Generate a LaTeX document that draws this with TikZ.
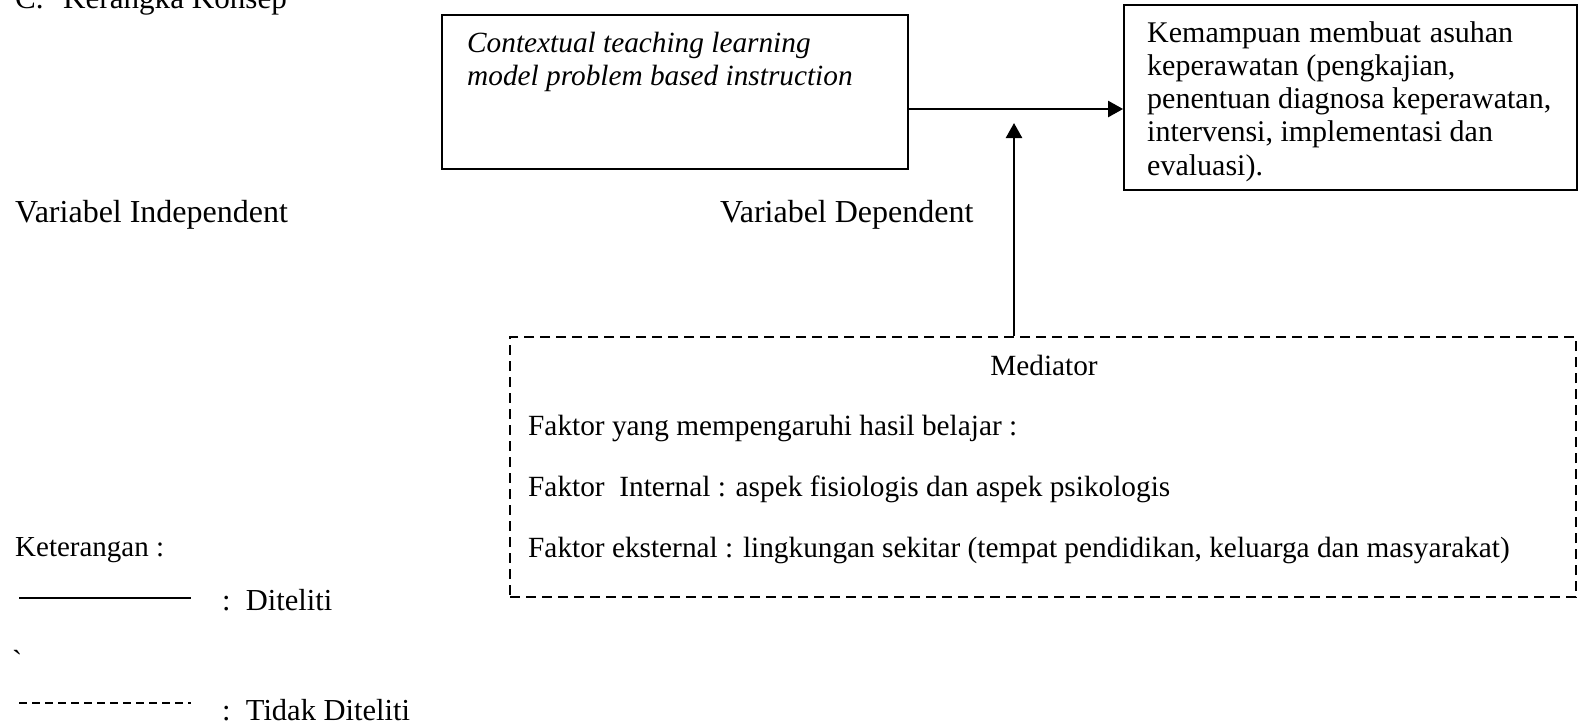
\documentclass[tikz,border=0pt]{standalone}
\usepackage{fontspec}
\setmainfont{Liberation Serif}
\newfontfamily\rawserif[Ligatures=TeXOff]{Liberation Serif}
\usetikzlibrary{arrows.meta}
\newcommand{\fsA}{\fontsize{32}{36}\selectfont}
\newcommand{\fsT}{\fontsize{31.1}{36}\selectfont}
\newcommand{\fsB}{\fontsize{30}{33.3}\selectfont}
\newcommand{\fsC}{\fontsize{29.3}{32}\selectfont}
\newcommand{\fsD}{\fontsize{30.5}{32}\selectfont}
\newcommand{\fsK}{\fontsize{29}{32}\selectfont}
\tikzset{
  lbl/.style={anchor=base west, inner sep=0pt, font=\fsD},
  solidbox/.style={draw, line width=1.8pt},
  medbox/.style={draw, line width=2.2pt, dash pattern=on 10pt off 6pt},
  conn/.style={line width=2.4pt, -{Triangle[length=15pt,width=16pt]}},
}
\begin{document}
\begin{tikzpicture}[x=1pt,y=-1pt]
\clip (0,0) rectangle (1579,724);
\fill[white] (0,0) rectangle (1579,724);
% title (cut off at the top edge)
\node[lbl, font=\fsT] (titleC) at (15,8) {C.};
\node[lbl, font=\fsT] (title) at (63,8) {Kerangka Konsep};
% boxes
\node[solidbox, minimum width=466pt, minimum height=154pt] (ctl) at (675,92) {};
\node[lbl, font=\fsC\itshape] (ctl1) at (467,52) {Contextual teaching learning};
\node[lbl, font=\fsC\itshape] (ctl2) at (467,85) {model problem based instruction};
\node[solidbox, minimum width=453pt, minimum height=185pt] (kem) at (1350.5,97.5) {};
\node[lbl, font=\fsB] (k1) at (1147,42) {\makebox[366pt][s]{Kemampuan membuat asuhan}};
\node[lbl, font=\fsB] (k2) at (1147,75.3) {keperawatan (pengkajian,};
\node[lbl, font=\fsB] (k3) at (1147,108.6) {penentuan diagnosa keperawatan,};
\node[lbl, font=\fsB] (k4) at (1147,141.9) {intervensi, implementasi dan};
\node[lbl, font=\fsB] (k5) at (1147,175.2) {evaluasi).};
% labels
\node[lbl, font=\fsA] (vi) at (15,222) {Variabel Independent};
\node[lbl, font=\fsA] (vd) at (720,222) {Variabel Dependent};
% mediator box
\node[medbox, minimum width=1066pt, minimum height=260pt] (med) at (1043,467) {};
\node[anchor=base, inner sep=0pt, font=\fsC] (m0) at (1044,375) {Mediator};
\node[lbl, font=\fsC] (m1) at (528,435) {Faktor yang mempengaruhi hasil belajar :};
\node[lbl, font=\fsC] (m2) at (528,496) {Faktor\ \ Internal : aspek fisiologis dan aspek psikologis};
\node[lbl, font=\fsC] (m3) at (528,557) {Faktor eksternal : lingkungan sekitar (tempat pendidikan, keluarga dan masyarakat)};
% connectors
\draw[conn] (ctl.east |- 0,109) -- (kem.west |- 0,109);
\coordinate (vtip) at (1014,123);
\draw[conn] (med.north -| vtip) -- (vtip);
% legend
\node[lbl, font=\fsK] (ket) at (15,556) {Keterangan :};
\coordinate (s1) at (19,598);
\coordinate (s2) at (191,598);
\draw[line width=1.4pt] (s1) -- (s2);
\node[lbl, font=\fsD] (dit) at (222,610) {:\ \ Diteliti};
\node[lbl, font=\fsD\rawserif] (grave) at (12,671) {`};
\coordinate (d1) at (19,703);
\coordinate (d2) at (191,703);
\draw[line width=1.1pt, dash pattern=on 8pt off 5pt] (d1) -- (d2);
\node[lbl, font=\fsD] (tdit) at (222,720) {:\ \ Tidak Diteliti};
\end{tikzpicture}
\end{document}
